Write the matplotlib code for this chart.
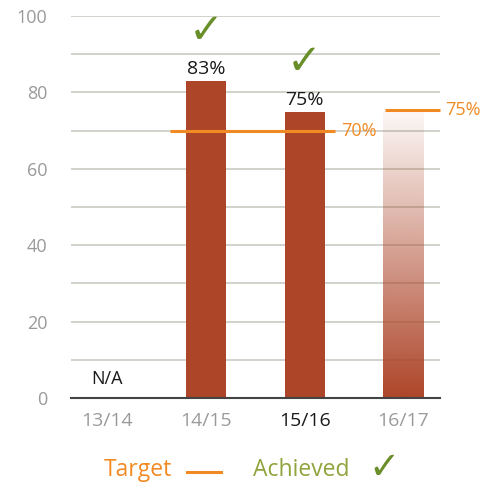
import numpy as np
import matplotlib
matplotlib.use("Agg")
import matplotlib.pyplot as plt

categories = ["13/14", "14/15", "15/16", "16/17"]
achieved = [None, 83, 75, 75]          # 16/17 shown as a faded (projected) bar
value_labels = [None, "83%", "75%", None]
achieved_flags = [False, True, True, False]
targets = [("70%", 70, 0.64, 2.31), ("75%", 75.5, 2.81, 3.37)]

plt.rcParams['font.family'] = ['Open Sans', 'DejaVu Sans']

BAR = '#ad4529'
GRID = '#cfd3cb'
ORANGE = '#f28a24'
GREEN = '#6a8f2a'
LGREEN = '#8fa43c'
GRAY = '#9a9a9a'

fig = plt.figure(figsize=(4.82, 4.86), dpi=100)
ax = fig.add_axes([71/482, 1-398/486, (440-71)/482, (398-16)/486])
ax.set_xlim(-0.364, 3.37)
ax.set_ylim(0, 100)
x = np.arange(len(categories))
w = 0.405

ax.set_yticks(range(0, 101, 20))
ax.set_yticks(range(0, 101, 10), minor=True)
ax.grid(axis='y', which='both', color=GRID, lw=1.4, zorder=0)
ax.set_axisbelow(True)
ax.tick_params(axis='both', which='both', length=0, labelcolor=GRAY)
ax.tick_params(axis='y', pad=17, labelsize=13)
ax.tick_params(axis='x', pad=10, labelsize=14)
for s in ['top', 'right', 'left']:
    ax.spines[s].set_visible(False)
ax.spines['bottom'].set_color('#444444')
ax.spines['bottom'].set_linewidth(1.5)
ax.spines['bottom'].set_zorder(5)
ax.set_xticks(x)
ax.set_xticklabels(categories)
for i, t in enumerate(ax.get_xticklabels()):
    if categories[i] == "15/16":
        t.set_color('#1a1a1a')

for i, v in enumerate(achieved):
    if v is None:
        ax.text(x[i], 5, "N/A", ha='center', va='center', fontsize=13, color='#1a1a1a')
        continue
    if i == 3:
        n = 256
        alpha = np.linspace(1.0, 0.04, n)[:, None]
        rgba = np.zeros((n, 1, 4))
        rgba[..., :3] = matplotlib.colors.to_rgb(BAR)
        rgba[..., 3] = alpha
        ax.imshow(rgba, extent=(x[i]-w/2, x[i]+w/2, 0, v), origin='lower',
                  aspect='auto', zorder=2, interpolation='bilinear')
    else:
        ax.bar(x[i], v, width=w, color=BAR, zorder=2)
    if value_labels[i]:
        ax.annotate(value_labels[i], (x[i], v), xytext=(0, 2), textcoords='offset points',
                    ha='center', va='bottom', fontsize=14, color='#1a1a1a')
    if achieved_flags[i]:
        ax.annotate("\u2713", (x[i], v), xytext=(0, 36), textcoords='offset points',
                    ha='center', va='center', fontsize=30, color=GREEN, fontweight='bold',
                    family='DejaVu Sans', annotation_clip=False)

ax.set_ylim(0, 100)
for lab, val, x0, x1 in targets:
    ax.plot([x0, x1], [val, val], color=ORANGE, lw=2.2, zorder=4, clip_on=False,
            solid_capstyle='butt')
    ax.annotate(lab, (x1, val), xytext=(4, 0), textcoords='offset points',
                ha='left', va='center', fontsize=13, color=ORANGE, annotation_clip=False)

# legend
fig.text(104/482, 1-470/486, "Target", ha='left', va='center', fontsize=16.5, color=ORANGE)
fig.add_artist(plt.Line2D([187/482, 221/482], [1-472/486, 1-472/486], color=ORANGE, lw=2.2))
fig.text(253/482, 1-470/486, "Achieved", ha='left', va='center', fontsize=16.5, color=LGREEN)
fig.text(384/482, 1-469/486, "\u2713", ha='center', va='center', fontsize=27, color=GREEN,
         fontweight='bold', family='DejaVu Sans')

fig.savefig("out.png", dpi=100)
